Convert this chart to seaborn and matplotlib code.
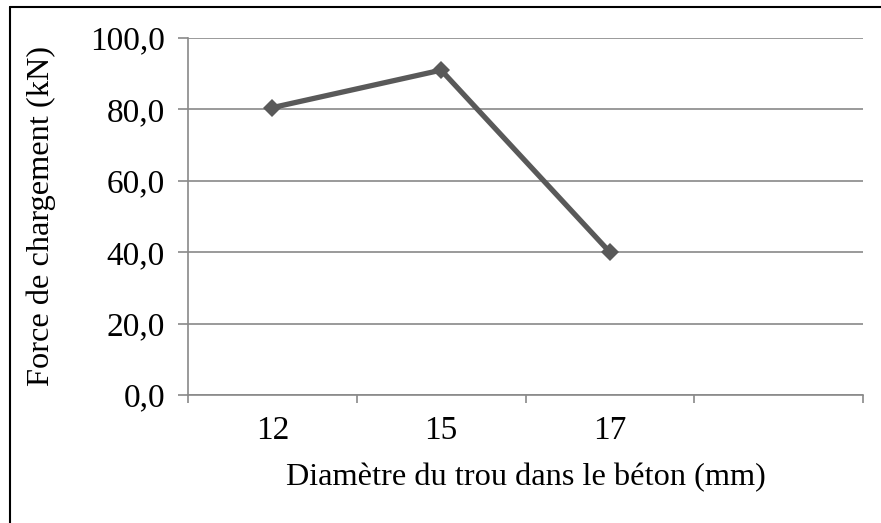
import pandas as pd
import seaborn as sns
import matplotlib.pyplot as plt
import matplotlib.ticker as mtick
from matplotlib.lines import Line2D

# Data
diametres = ['12', '15', '17']
forces = [80.5, 91.0, 40.0]
y_ticks = [0, 20, 40, 60, 80, 100]
n_cat = 4  # Excel axis leaves one empty category on the right

df = pd.DataFrame({'diametre': diametres, 'force': forces})

sns.set_theme(style='white')
plt.rcParams['font.family'] = ['Liberation Serif', 'DejaVu Serif']

fig = plt.figure(figsize=(8.81, 5.23), dpi=100)
ax = fig.add_axes([188 / 881, 1 - 395 / 523, (863 - 188) / 881, (395 - 38) / 523])

sns.lineplot(data=df, x='diametre', y='force', ax=ax, color='#595959',
             linewidth=3.8, marker='D', markersize=9, markeredgewidth=0,
             sort=False)

grid_col = '#898989'
ax.set_ylim(0, 100)
ax.set_xlim(-0.5, n_cat - 0.5)
ax.set_yticks(y_ticks)
ax.yaxis.set_major_formatter(mtick.FuncFormatter(
    lambda v, p: '{:.1f}'.format(v).replace('.', ',')))
ax.yaxis.grid(True, color=grid_col, linewidth=1.2)
ax.set_axisbelow(True)

# category boundaries get the tick marks, labels sit in the middle
ax.set_xticks([i - 0.5 for i in range(n_cat + 1)])
ax.set_xticklabels([])
ax.set_xticks(range(len(diametres)), minor=True)
ax.set_xticklabels(diametres, minor=True)
ax.tick_params(axis='x', which='major', length=6, width=1.2, color=grid_col,
               direction='out', bottom=True)
ax.tick_params(axis='x', which='minor', length=0, pad=15, labelsize=24,
               labelcolor='black')
ax.tick_params(axis='y', length=7.5, width=1.2, color=grid_col,
               direction='out', left=True, labelsize=24, labelcolor='black',
               pad=9)

for side in ['top', 'right']:
    ax.spines[side].set_visible(False)
for side in ['left', 'bottom']:
    ax.spines[side].set_color(grid_col)
    ax.spines[side].set_linewidth(1.2)

ax.set_xlabel('Diamètre du trou dans le béton (mm)', fontsize=23.3,
              color='black')
ax.set_ylabel('Force de chargement (kN)', fontsize=23.3, color='black')
ax.xaxis.set_label_coords(0.5, (395 - 463) / 357)
ax.yaxis.set_label_coords((56 - 188) / 675, 0.5)

# chart frame (only top and left edges show in the picture)
fig.add_artist(Line2D([10 / 881, 1], [1 - 7 / 523, 1 - 7 / 523],
                      transform=fig.transFigure, color='black', linewidth=1.5))
fig.add_artist(Line2D([10 / 881, 10 / 881], [0, 1 - 7 / 523],
                      transform=fig.transFigure, color='black', linewidth=1.5))

plt.savefig('out.png', dpi=100)
